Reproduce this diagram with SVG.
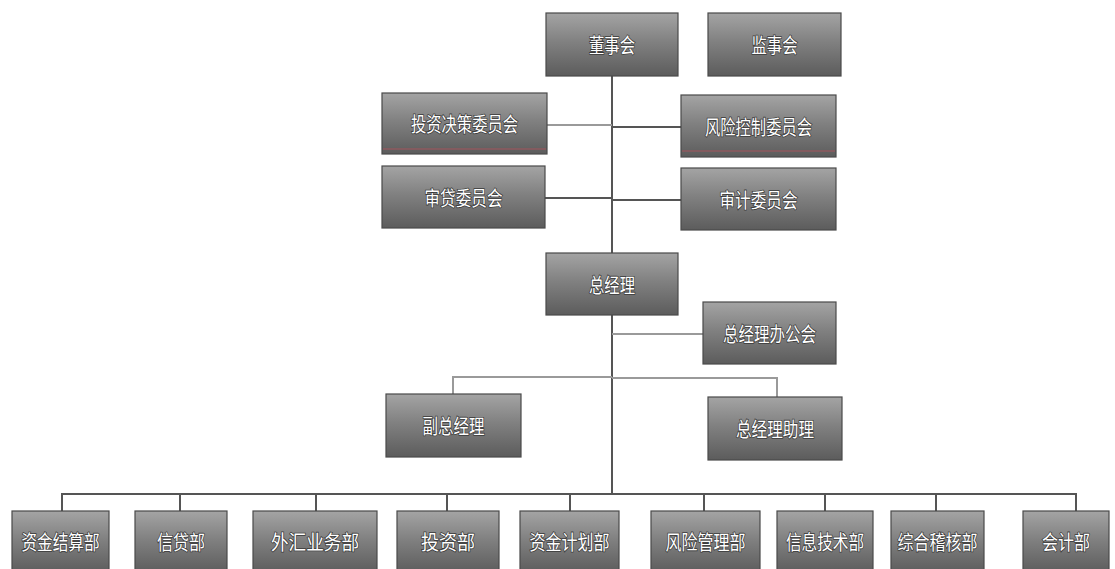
<svg xmlns="http://www.w3.org/2000/svg" width="1115" height="569" viewBox="0 0 1115 569">
<defs>
<linearGradient id="g" x1="0" y1="0" x2="0" y2="1">
<stop offset="0" stop-color="#a4a4a4"/>
<stop offset="0.45" stop-color="#818181"/>
<stop offset="1" stop-color="#5c5c5c"/>
</linearGradient>
<style>
.box{fill:url(#g);stroke:#4a4a4a;stroke-width:1.2}
.t{font-family:"Noto Sans CJK SC","Noto Sans",sans-serif;font-size:20px;fill:#ffffff;text-anchor:middle;dominant-baseline:central;stroke:#3a3a3a;stroke-width:1.6px;paint-order:stroke}
.c{fill:none;stroke:#555;stroke-width:2}
.c2{fill:none;stroke:#9a9a9a;stroke-width:2}
.red{stroke:#c0505a;stroke-width:1;opacity:0.7}
</style>
</defs>
<rect width="1115" height="569" fill="#ffffff"/>
<g id="connectors">
<path class="c" d="M612 76V494"/>
<path class="c2" d="M547 125H612"/>
<path class="c" d="M612 127H681"/>
<path class="c" d="M545 198H612"/>
<path class="c" d="M612 200H681"/>
<path class="c2" d="M612 334H703"/>
<path class="c2" d="M453 394V377H612"/>
<path class="c2" d="M612 378H777V397"/>
<path class="c" d="M62 511V494H1076V511"/>
<path class="c" d="M180 494V511M316 494V511M447 494V511M570 494V511M704 494V511M825 494V511M936 494V511"/>
</g>
<g id="n1"><rect class="box" x="546" y="13" width="132" height="63"/><text class="t" x="612" y="44.5" textLength="46" lengthAdjust="spacingAndGlyphs">董事会</text></g>
<g id="n2"><rect class="box" x="708" y="13" width="133" height="63"/><text class="t" x="774.5" y="44.5" textLength="46" lengthAdjust="spacingAndGlyphs">监事会</text></g>
<g id="n3"><rect class="box" x="382" y="93" width="165" height="61"/><line class="red" x1="383" y1="149" x2="546" y2="149"/><text class="t" x="464.5" y="123.5" textLength="107" lengthAdjust="spacingAndGlyphs">投资决策委员会</text></g>
<g id="n4"><rect class="box" x="681" y="95" width="155" height="62"/><line class="red" x1="682" y1="151" x2="835" y2="151"/><text class="t" x="758.5" y="126" textLength="107" lengthAdjust="spacingAndGlyphs">风险控制委员会</text></g>
<g id="n5"><rect class="box" x="382" y="166" width="163" height="62"/><text class="t" x="463.5" y="197" textLength="78" lengthAdjust="spacingAndGlyphs">审贷委员会</text></g>
<g id="n6"><rect class="box" x="681" y="168" width="155" height="62"/><text class="t" x="758.5" y="199" textLength="78" lengthAdjust="spacingAndGlyphs">审计委员会</text></g>
<g id="n7"><rect class="box" x="546" y="253" width="132" height="62"/><text class="t" x="612" y="284" textLength="46" lengthAdjust="spacingAndGlyphs">总经理</text></g>
<g id="n8"><rect class="box" x="703" y="302" width="133" height="62"/><text class="t" x="769.5" y="333" textLength="93" lengthAdjust="spacingAndGlyphs">总经理办公会</text></g>
<g id="n9"><rect class="box" x="386" y="394" width="135" height="63"/><text class="t" x="453.5" y="425.5" textLength="62" lengthAdjust="spacingAndGlyphs">副总经理</text></g>
<g id="n10"><rect class="box" x="708" y="397" width="134" height="63"/><text class="t" x="775" y="428.5" textLength="78" lengthAdjust="spacingAndGlyphs">总经理助理</text></g>
<g id="n11"><rect class="box" x="12" y="511" width="97" height="62"/><text class="t" x="60.5" y="541" textLength="78" lengthAdjust="spacingAndGlyphs">资金结算部</text></g>
<g id="n12"><rect class="box" x="135" y="511" width="92" height="62"/><text class="t" x="181" y="541" textLength="48" lengthAdjust="spacingAndGlyphs">信贷部</text></g>
<g id="n13"><rect class="box" x="253" y="511" width="124" height="62"/><text class="t" x="315" y="541" textLength="88" lengthAdjust="spacingAndGlyphs">外汇业务部</text></g>
<g id="n14"><rect class="box" x="397" y="511" width="102" height="62"/><text class="t" x="448" y="541" textLength="54" lengthAdjust="spacingAndGlyphs">投资部</text></g>
<g id="n15"><rect class="box" x="520" y="511" width="99" height="62"/><text class="t" x="569.5" y="541" textLength="80" lengthAdjust="spacingAndGlyphs">资金计划部</text></g>
<g id="n16"><rect class="box" x="651" y="511" width="109" height="62"/><text class="t" x="705.5" y="541" textLength="80" lengthAdjust="spacingAndGlyphs">风险管理部</text></g>
<g id="n17"><rect class="box" x="777" y="511" width="96" height="62"/><text class="t" x="825" y="541" textLength="78" lengthAdjust="spacingAndGlyphs">信息技术部</text></g>
<g id="n18"><rect class="box" x="891" y="511" width="93" height="62"/><text class="t" x="937.5" y="541" textLength="80" lengthAdjust="spacingAndGlyphs">综合稽核部</text></g>
<g id="n19"><rect class="box" x="1023" y="511" width="86" height="62"/><text class="t" x="1066" y="541" textLength="48" lengthAdjust="spacingAndGlyphs">会计部</text></g>
</svg>
